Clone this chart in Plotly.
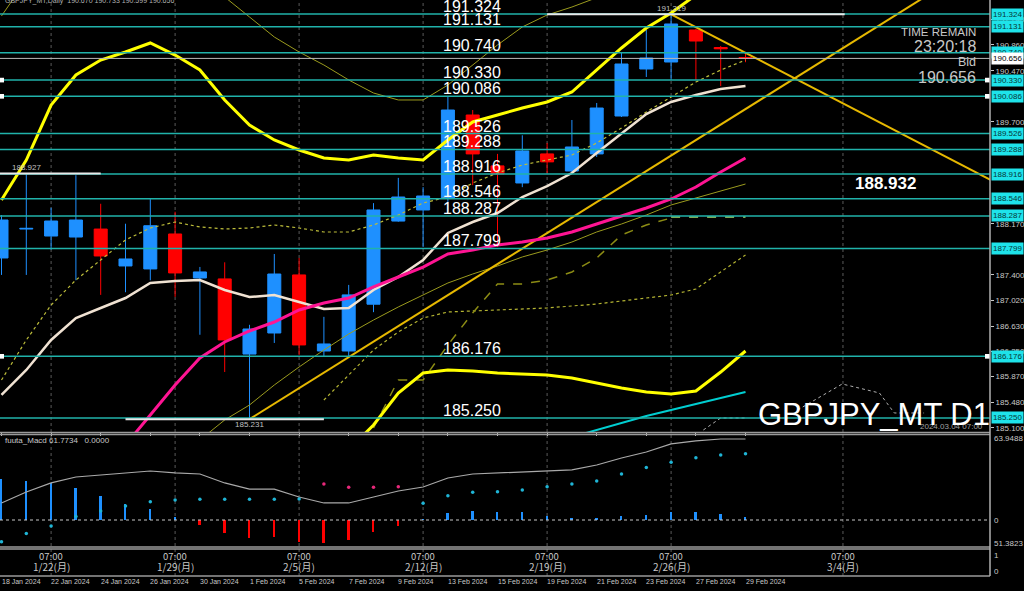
import plotly.graph_objects as go

# ---------------- data ----------------
bars = list(range(31))
open_ = [187.655, 188.09, 187.985, 187.97, 188.09, 187.535, 187.49, 188.016, 187.354, 187.34,
         186.21, 186.527, 187.40, 186.256, 186.256, 186.96, 188.21, 188.377, 188.55, 189.805,
         189.04, 188.783, 189.22, 188.963, 189.22, 189.79, 190.497, 190.602, 191.083, 190.82, 190.67]
high = [188.30, 188.927, 188.41, 188.90, 188.47, 188.17, 188.54, 188.35, 187.52, 187.59,
        186.65, 187.715, 187.655, 186.77, 187.25, 188.48, 188.86, 188.72, 190.076, 189.88,
        189.22, 189.50, 189.385, 189.73, 189.986, 190.74, 191.083, 191.319, 191.10, 190.843, 190.733]
low = [187.40, 187.40, 187.78, 187.32, 187.10, 187.14, 187.32, 187.07, 186.50, 185.94,
       185.231, 186.377, 186.196, 186.18, 186.18, 186.84, 188.20, 187.82, 188.35, 188.75,
       187.82, 188.72, 188.93, 188.93, 189.174, 189.775, 190.377, 190.332, 190.33, 190.24, 190.599]
close = [188.226, 188.10, 188.211, 188.226, 187.685, 187.64, 188.14, 187.43, 187.445, 186.422,
         186.587, 187.414, 186.347, 186.362, 187.10, 188.377, 188.572, 188.587, 189.88, 189.22,
         188.918, 189.264, 189.10, 189.324, 189.91, 190.572, 190.662, 191.174, 190.918, 190.80, 190.656]

upper_band = [188.527, 189.128, 189.955, 190.407, 190.632, 190.753, 190.888, 190.707, 190.482, 190.031,
              189.655, 189.429, 189.279, 189.159, 189.128, 189.204, 189.159, 189.128, 189.429, 189.700,
              189.805, 189.910, 190.001, 190.151, 190.482, 190.813, 191.113, 191.339, 191.610, 191.835, 192.061]
lower_band_x = list(range(14, 31))
lower_band = [184.768, 185.143, 185.625, 185.925, 185.970, 185.955, 185.925, 185.910, 185.895, 185.850,
              185.775, 185.700, 185.640, 185.610, 185.655, 185.940, 186.256]
upper_thin = [191.294, 191.835, 192.211, 192.437, 192.587, 192.662, 192.662, 192.437, 192.136, 191.580,
              191.279, 190.978, 190.753, 190.557, 190.332, 190.136, 190.031, 190.031, 190.256, 190.557,
              190.858, 191.129, 191.309, 191.429, 191.565, 191.70, 191.85, 192.0, 192.15, 192.3, 192.45]
lower_thin_x = list(range(8, 31))
lower_thin = [184.918, 185.219, 185.444, 185.745, 186.016, 186.271, 186.512, 186.722, 186.918, 187.098,
              187.279, 187.414, 187.534, 187.670, 187.775, 187.895, 188.046, 188.166, 188.301, 188.452,
              188.557, 188.662, 188.767]
ma_cream = [185.595, 185.971, 186.422, 186.752, 186.903, 187.053, 187.279, 187.309, 187.324, 187.174,
            187.068, 187.098, 186.993, 186.888, 186.903, 187.174, 187.369, 187.625, 188.031, 188.196,
            188.331, 188.572, 188.737, 188.933, 189.234, 189.534, 189.820, 190.001, 190.106, 190.196, 190.241]
ma_pink_x = list(range(5, 31))
ma_pink = [184.843, 185.294, 185.745, 186.151, 186.392, 186.557, 186.692, 186.873, 186.978, 187.053,
           187.219, 187.369, 187.519, 187.715, 187.775, 187.850, 187.895, 187.956, 188.046, 188.166,
           188.286, 188.407, 188.542, 188.722, 188.948, 189.158]
dotted_ma = [185.820, 186.422, 186.948, 187.324, 187.625, 187.926, 188.106, 188.196, 188.121, 188.091,
             188.106, 188.151, 188.106, 188.046, 188.046, 188.151, 188.301, 188.482, 188.572, 188.783,
             188.933, 189.053, 189.128, 189.204, 189.384, 189.610, 189.850, 190.076, 190.301, 190.482, 190.632]
dotted_low_x = list(range(13, 31))
dotted_low = [185.519, 185.895, 186.271, 186.542, 186.752, 186.843, 186.858, 186.873, 186.888, 186.903,
              186.933, 186.963, 187.008, 187.053, 187.098, 187.189, 187.444, 187.700]
dashed_x = list(range(15, 28))
dashed = [185.098, 185.820, 185.820, 186.347, 186.828, 187.264, 187.264, 187.324, 187.444, 187.655,
          188.001, 188.151, 188.257]
green_dash_x = [27, 28, 29, 30]
green_dash = [188.272, 188.272, 188.272, 188.272]
cyan_x = list(range(23, 31))
cyan_line = [184.963, 185.068, 185.174, 185.279, 185.369, 185.459, 185.549, 185.640]

trend_up_x = [10, 40]
trend_up = [185.231, 192.227]
trend_dn_x = [27, 40]
trend_dn = [191.319, 188.807]

future_a_x = [28.3, 29.0, 30.0]
future_a = [185.068, 185.249, 185.249]
future_b_x = [32.1, 33.9, 35.4, 36.0, 37.2]
future_b = [185.369, 185.760, 185.625, 185.324, 185.324]

levels = [191.324, 191.131, 190.740, 190.330, 190.086, 189.526, 189.288, 188.916,
          188.546, 188.287, 187.799, 186.176, 185.250]
marked_levels = [190.330, 190.086, 186.176]
bid = 190.656
price_ticks = [191.240, 190.860, 190.470, 189.700, 188.170, 187.400, 187.020,
               186.630, 186.250, 185.870, 185.480, 185.100]

macd_line = [13.1, 21.5, 28.5, 33.1, 34.6, 36.2, 37.7, 36.2, 35.4, 28.5, 23.8, 23.8, 17.7, 13.1, 13.1,
             17.7, 22.3, 25.4, 32.3, 35.4, 36.2, 36.9, 37.7, 38.5, 42.3, 47.7, 52.3, 58.5, 60.8, 62.3, 62.3]
macd_hist = [31.3, 30.3, 28.2, 24.4, 18.5, 12.3, 8.2, 2.1, -3.8, -9.7, -14.1, -13.3, -16.7, -17.9, -15.4,
             -9.5, -4.6, 0.5, 5.6, 7.2, 5.9, 5.9, 3.1, 1.8, 1.3, 3.3, 3.8, 5.9, 5.9, 4.4, 2.6]
macd_dots = [-16.7, -10.3, -4.6, 2.6, 6.9, 10.8, 14.1, 15.4, 15.9, 15.9, 15.9, 15.9, 16.2, 27.7, 25.1,
             25.1, 25.6, 12.8, 18.7, 21.3, 21.8, 23.1, 25.6, 27.7, 30.0, 35.4, 40.3, 44.4, 47.9, 50.0, 51.0]
macd_dot_up = [True] * 13 + [False] * 4 + [True] * 14

tick_bars = list(range(0, 31, 2))
tick_labels = ["18 Jan 2024", "22 Jan 2024", "24 Jan 2024", "26 Jan 2024", "30 Jan 2024", "1 Feb 2024",
               "5 Feb 2024", "7 Feb 2024", "9 Feb 2024", "13 Feb 2024", "15 Feb 2024", "19 Feb 2024",
               "21 Feb 2024", "23 Feb 2024", "27 Feb 2024", "29 Feb 2024"]
week_bars = [2, 7, 12, 17, 22, 27, 33.93]
week_labels = ["1/22(月)", "1/29(月)", "2/5(月)", "2/12(月)", "2/19(月)", "2/26(月)", "3/4(月)"]

# ---------------- layout geometry ----------------
W, H = 1024, 591
MR, MB = 34, 15
PW, PH = W - MR, H - MB


def py(p):
    return 1 - p / PH


def pxx(p):
    return p / PW


BLUE = '#1E90FF'
RED = '#FF0000'
TEAL = '#20B2AA'
FONT = 'Liberation Sans, Arial, sans-serif'

fig = go.Figure()

# candles
fig.add_trace(go.Candlestick(
    x=bars, open=open_, high=high, low=low, close=close,
    increasing=dict(line=dict(color=BLUE, width=1), fillcolor=BLUE),
    decreasing=dict(line=dict(color=RED, width=1), fillcolor=RED),
    whiskerwidth=0, xaxis='x', yaxis='y', showlegend=False, hoverinfo='skip'))


def add_line(xs, ys, color, width, dash='solid', yaxis='y'):
    fig.add_trace(go.Scatter(x=xs, y=ys, mode='lines',
                             line=dict(color=color, width=width, dash=dash),
                             xaxis='x', yaxis=yaxis, showlegend=False, hoverinfo='skip'))


add_line(bars, upper_thin, '#9B9B1E', 1)
add_line(lower_thin_x, lower_thin, '#9B9B1E', 1)
add_line(dotted_low_x, dotted_low, '#B4B432', 1.2, 'dot')
add_line(dashed_x, dashed, '#8C8C14', 1.5, 'dash')
add_line(green_dash_x, green_dash, '#A8E070', 1.5, 'dash')
add_line(bars, dotted_ma, '#BDBD3A', 1.2, 'dot')
add_line(future_a_x, future_a, '#B0B0B0', 1, 'dot')
add_line(future_b_x, future_b, '#B0B0B0', 1, 'dot')
add_line(trend_up_x, trend_up, '#E6B800', 2)
add_line(trend_dn_x, trend_dn, '#E6B800', 2)
add_line(bars, ma_cream, '#F0E2D2', 2.5)
add_line(ma_pink_x, ma_pink, '#FF1493', 3)
add_line(cyan_x, cyan_line, '#00CED1', 2)
add_line(bars, upper_band, '#FFFF00', 3)
add_line(lower_band_x, lower_band, '#FFFF00', 3)

# MACD panel
fig.add_trace(go.Bar(x=bars, y=macd_hist, width=0.08,
                     marker=dict(color=[BLUE if v >= 0 else RED for v in macd_hist], line=dict(width=0)),
                     xaxis='x', yaxis='y2', showlegend=False, hoverinfo='skip'))
add_line(bars, macd_line, '#A9A9A9', 1.2, yaxis='y2')
fig.add_trace(go.Scatter(x=bars, y=macd_dots, mode='markers',
                         marker=dict(size=3.5, color=['#1FB5D6' if u else '#E8287A' for u in macd_dot_up]),
                         xaxis='x', yaxis='y2', showlegend=False, hoverinfo='skip'))

shapes = []
# weekly dotted separators
for b in week_bars:
    shapes.append(dict(type='line', xref='x', yref='paper', x0=b, x1=b, y0=0, y1=1,
                       line=dict(color='#5A5A5A', width=1, dash='dot'), layer='below'))
# level lines
for lv in levels:
    shapes.append(dict(type='line', xref='paper', yref='y', x0=0, x1=1, y0=lv, y1=lv,
                       line=dict(color=TEAL, width=1.5)))
# bid line
shapes.append(dict(type='line', xref='paper', yref='y', x0=0, x1=1, y0=bid, y1=bid,
                   line=dict(color='#B8B8B8', width=1)))
# high / low markers
shapes.append(dict(type='line', xref='x', yref='y', x0=-0.1, x1=4.0, y0=188.927, y1=188.927,
                   line=dict(color='#E8E8E8', width=2)))
shapes.append(dict(type='line', xref='x', yref='y', x0=5.0, x1=13.0, y0=185.231, y1=185.231,
                   line=dict(color='#E8E8E8', width=2)))
shapes.append(dict(type='line', xref='x', yref='y', x0=22.0, x1=34.0, y0=191.319, y1=191.319,
                   line=dict(color='#E8E8E8', width=2)))
# small squares at marked levels
for lv in marked_levels:
    shapes.append(dict(type='rect', xref='paper', yref='y', x0=0, x1=pxx(4), y0=lv - 0.035, y1=lv + 0.035,
                       fillcolor='#FFFFFF', line=dict(width=0)))
    shapes.append(dict(type='rect', xref='paper', yref='y', x0=pxx(985), x1=1, y0=lv - 0.035, y1=lv + 0.035,
                       fillcolor='#FFFFFF', line=dict(width=0)))
# MACD zero line
shapes.append(dict(type='line', xref='paper', yref='y2', x0=0, x1=1, y0=0, y1=0,
                   line=dict(color='#C8C8C8', width=1, dash='dot')))
# panel frames
for yy in [432.5, 434.5, 547, 549, 576]:
    shapes.append(dict(type='line', xref='paper', yref='paper', x0=0, x1=1, y0=py(yy), y1=py(yy),
                       line=dict(color='#9A9A9A', width=1.5)))
shapes.append(dict(type='line', xref='paper', yref='paper', x0=1, x1=1, y0=0, y1=1,
                   line=dict(color='#B0B0B0', width=1.5)))

ann = []
# level labels
for lv in levels:
    ann.append(dict(x=pxx(441), xref='paper', y=lv, yref='y', text=f"{lv:.3f}", showarrow=False,
                    xanchor='left', yanchor='bottom', yshift=-3,
                    font=dict(family=FONT, size=16, color='#FFFFFF')))
# right axis boxes
for lv in levels:
    ann.append(dict(x=1, xref='paper', y=lv, yref='y', text=f"{lv:.3f}", showarrow=False,
                    xanchor='left', yanchor='middle', xshift=1, bgcolor='#1EE3EA', borderpad=1,
                    font=dict(family=FONT, size=8, color='#063838')))
ann.append(dict(x=1, xref='paper', y=bid, yref='y', text=f"{bid:.3f}", showarrow=False,
                xanchor='left', yanchor='middle', xshift=1, bgcolor='#FFFFFF', borderpad=1,
                font=dict(family=FONT, size=8, color='#000000')))
# high/low text
ann.append(dict(x=1, xref='x', y=188.927, yref='y', text='188.927', showarrow=False, yanchor='bottom',
                yshift=-1, font=dict(family=FONT, size=8, color='#C0C0C0')))
ann.append(dict(x=10, xref='x', y=185.231, yref='y', text='185.231', showarrow=False, yanchor='top',
                yshift=1, font=dict(family=FONT, size=8, color='#C0C0C0')))
ann.append(dict(x=27, xref='x', y=191.319, yref='y', text='191.319', showarrow=False, yanchor='bottom',
                yshift=-1, font=dict(family=FONT, size=8, color='#C0C0C0')))
# header
ann.append(dict(x=pxx(3), xref='paper', y=py(1.5), yref='paper', xanchor='left', yanchor='middle',
                text='GBPJPY_MT,Daily  190.670 190.733 190.599 190.656', showarrow=False,
                font=dict(family=FONT, size=7, color='#B0B0B0')))
# time remain block
for txt, yy, sz in [('TIME REMAIN', 31.5, 11.5), ('23:20:18', 47, 16), ('Bid', 62, 12.5), ('190.656', 78, 16)]:
    ann.append(dict(x=pxx(978), xref='paper', y=py(yy), yref='paper', xanchor='right', yanchor='middle',
                    text=txt, showarrow=False, font=dict(family=FONT, size=sz, color='#C8C8C8')))
ann.append(dict(x=pxx(853), xref='paper', y=py(183.5), yref='paper', xanchor='left', yanchor='middle',
                text='<b>188.932</b>', showarrow=False, font=dict(family=FONT, size=17, color='#FFFFFF')))
ann.append(dict(x=pxx(985), xref='paper', y=py(426), yref='paper', xanchor='right', yanchor='middle',
                text='2024.03.04 07:00', showarrow=False, font=dict(family=FONT, size=8, color='#A0A0A0')))
ann.append(dict(x=pxx(756), xref='paper', y=py(414), yref='paper', xanchor='left', yanchor='middle',
                text='GBPJPY_MT D1', showarrow=False, font=dict(family=FONT, size=31, color='#FFFFFF')))
# MACD texts
ann.append(dict(x=pxx(3), xref='paper', y=py(440), yref='paper', xanchor='left', yanchor='middle',
                text='fuuta_Macd 61.7734   0.0000', showarrow=False, font=dict(family=FONT, size=8, color='#C8C8C8')))
for txt, yy in [('63.9488', 438.5), ('0', 520), ('51.3823', 543), ('1', 555), ('0', 571)]:
    ann.append(dict(x=1, xref='paper', y=py(yy), yref='paper', xanchor='left', yanchor='middle', xshift=2,
                    text=txt, showarrow=False, font=dict(family=FONT, size=8, color='#C8C8C8')))
# week labels in the bottom panel
for b, lab in zip(week_bars, week_labels):
    ann.append(dict(x=b, xref='x', y=py(556), yref='paper', text='07:00', showarrow=False, yanchor='middle',
                    font=dict(family='Noto Sans CJK JP', size=9.5, color='#C8C8C8')))
    ann.append(dict(x=b, xref='x', y=py(566), yref='paper', text=lab, showarrow=False, yanchor='middle',
                    font=dict(family='Noto Sans CJK JP', size=10, color='#C8C8C8')))
# date labels
for b, lab in zip(tick_bars, tick_labels):
    ann.append(dict(x=b, xref='x', y=py(581.5), yref='paper', text=lab, showarrow=False,
                    xanchor='left', yanchor='middle', xshift=-2,
                    font=dict(family=FONT, size=7, color='#C8C8C8')))

fig.update_layout(
    width=W, height=H, margin=dict(l=0, r=MR, t=0, b=MB),
    paper_bgcolor='#000000', plot_bgcolor='#000000',
    showlegend=False, boxgap=0.25, bargap=0,
    xaxis=dict(domain=[0, 1], range=[-0.0605, 39.859], anchor='y3', rangeslider=dict(visible=False),
               showgrid=False, zeroline=False, showline=False, ticks='outside', ticklen=3,
               tickcolor='#C8C8C8', tickvals=tick_bars, showticklabels=False),
    yaxis=dict(domain=[py(432), 1], range=[185.038, 191.5345], side='right', anchor='x',
               showgrid=False, zeroline=False, showline=False, ticks='outside', ticklen=3,
               tickcolor='#C8C8C8', tickvals=price_ticks, ticktext=[f"{v:.3f}" for v in price_ticks],
               tickfont=dict(family=FONT, size=8, color='#C8C8C8')),
    yaxis2=dict(domain=[py(547), py(435)], range=[-20.77, 65.38], anchor='x', showgrid=False,
                zeroline=False, showticklabels=False),
    yaxis3=dict(domain=[0, py(548)], range=[0, 1], anchor='x', showgrid=False, zeroline=False,
                showticklabels=False),
    shapes=shapes, annotations=ann,
)

fig.write_html("out.html", config={'displayModeBar': False},
               post_script="document.body.style.margin='0';document.body.style.padding='0';"
                           "document.body.style.overflow='hidden';document.body.style.background='#000';")
